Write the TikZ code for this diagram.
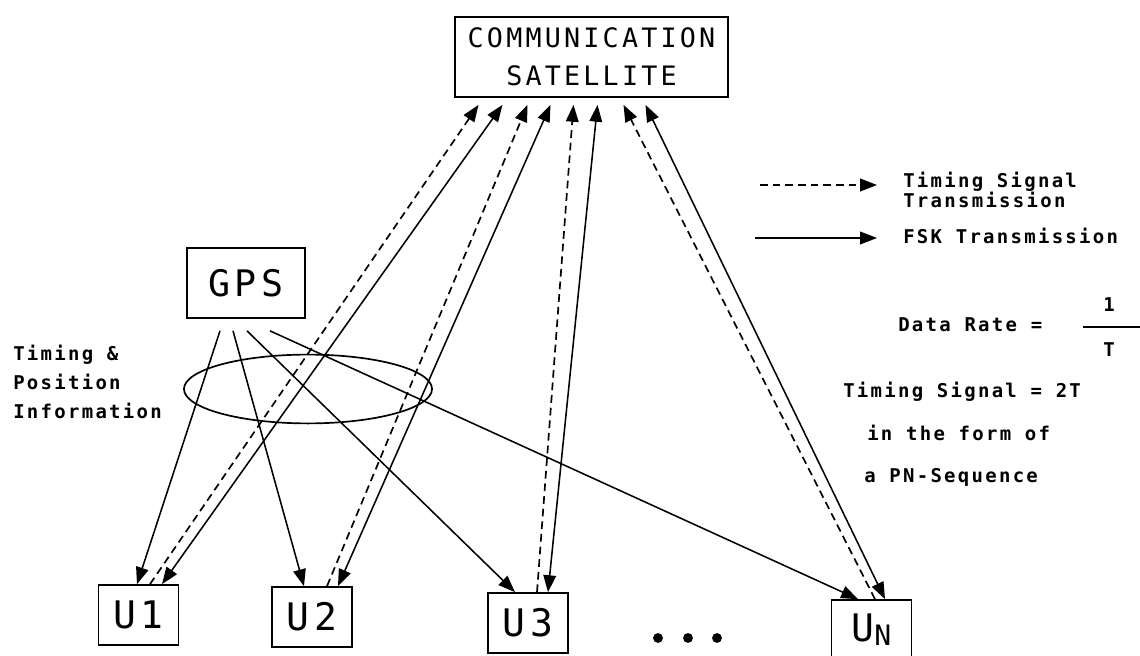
\documentclass[tikz,border=0pt]{standalone}
\usepackage{fontspec}
\usepackage{tikz}
\usetikzlibrary{arrows.meta,calc}

\newfontfamily\plotfont[LetterSpace=12]{DejaVu Sans Mono}
\newfontfamily\boxfont[LetterSpace=12]{DejaVu Sans Mono}

\begin{document}
\begin{tikzpicture}[x=0.025cm, y=-0.025cm,
	>={Triangle[length=12pt, width=9pt]},
	box/.style={draw, line width=1.2pt, inner sep=0pt, align=center},
	ubox/.style={box, minimum width=2cm, minimum height=1.5cm, font=\boxfont\fontsize{27}{27}\selectfont},
	note/.style={anchor=base west, inner sep=0pt, align=left, font=\plotfont\bfseries\fontsize{13.5}{12.8}\selectfont},
	link/.style={line width=1.1pt},
	sig/.style={->, line width=1.2pt, dash pattern=on 5.5pt off 3.5pt}]
	
	\useasboundingbox (0,0) rectangle (1140,656);
	
	%
	\node[box, minimum width=6.825cm, minimum height=2cm, font=\boxfont\fontsize{19}{27}\selectfont] (sat) at (591.5,57) {COMMUNICATION\\SATELLITE};
	\node[box, minimum width=2.95cm, minimum height=1.75cm, font=\boxfont\fontsize{26}{26}\selectfont] (gps) at (246,283) {GPS};
	
	\node[ubox] (u1) at (138.5,615) {U1};
	\node[ubox] (u2) at (312,617) {U2};
	\node[ubox] (u3) at (528,623) {U3};
	\node[ubox] (un) at (871.5,630) {U\raisebox{-3pt}{\fontsize{20}{20}\selectfont N}};
	
	\fill (658,638) circle (3.5pt) (688,638) circle (3.5pt) (717,638) circle (3.5pt);
	
	%
	\foreach \dx [count=\i] in {-113,-89,-64,-41,-18,6,32,54} {
		\coordinate (s\i) at ($(sat.south)+(\dx,7)$);
	}
	\foreach \dx [count=\i] in {-26,-13,1,24} {
		\coordinate (g\i) at ($(gps.south)+(\dx,12)$);
	}
	
	\path (u1.north) ++(-1.5,0) coordinate (u1g) ++(13,0) coordinate (u1d) ++(12,0) coordinate (u1f);
	\path (u2.north) ++(-8,0) coordinate (u2g) ++(23,0) coordinate (u2d) ++(11,0) coordinate (u2f);
	\path (u3.north) ++(-13,0) coordinate (u3g) ++(22,0) coordinate (u3d) ++(11,0) coordinate (u3f);
	\path (un.north) ++(-13.5,0) coordinate (ung) ++(17,0) coordinate (und) ++(10,0) coordinate (unf);
	
	%
	\draw[->, link] (g1) -- (u1g);
	\draw[->, link] (g2) -- (u2g);
	\draw[->, link] (g3) -- (u3g);
	\draw[->, link] (g4) -- (ung);
	
	\draw[sig] (u1d) -- (s1);
	\draw[<->, link] (u1f) -- (s2);
	\draw[sig] (u2d) -- (s3);
	\draw[<->, link] (u2f) -- (s4);
	\draw[sig] (u3d) -- (s5);
	\draw[<->, link] (u3f) -- (s6);
	\draw[sig] (und) -- (s7);
	\draw[<->, link] (unf) -- (s8);
	
	\draw[line width=1.2pt] (308,389) ellipse [x radius=3.1cm, y radius=0.86cm];
	
	\node[note, font=\plotfont\bfseries\fontsize{13.5}{20.6}\selectfont] (info) at (13,418) {Timing \&\\Position\\Information};
	
	%
	\coordinate (la) at (760,185);
	\coordinate (lb) at (877,185);
	\coordinate (lc) at (755,238);
	\coordinate (ld) at (877,238);
	\draw[sig] (la) -- (lb);
	\draw[->, link] (lc) -- (ld);
	
	\node[note] (sigtext) at (903,208) {Timing Signal\\Transmission};
	\node[note] (fsktext) at (903,244) {FSK Transmission};
	
	\node[note] (rate) at (898,331) {Data Rate =};
	\node[note, anchor=base] (one) at (1109,312) {1};
	\node[note, anchor=base] (tee) at (1109,357) {T};
	\draw[line width=1.1pt] (1083,327) -- (1140,327);
	
	\node[note] (tsig) at (843,398) {Timing Signal = 2T};
	\node[note] (form) at (867,440) {in the form of};
	\node[note] (pnseq) at (864,482) {a PN-Sequence};
	
\end{tikzpicture}
\end{document}
